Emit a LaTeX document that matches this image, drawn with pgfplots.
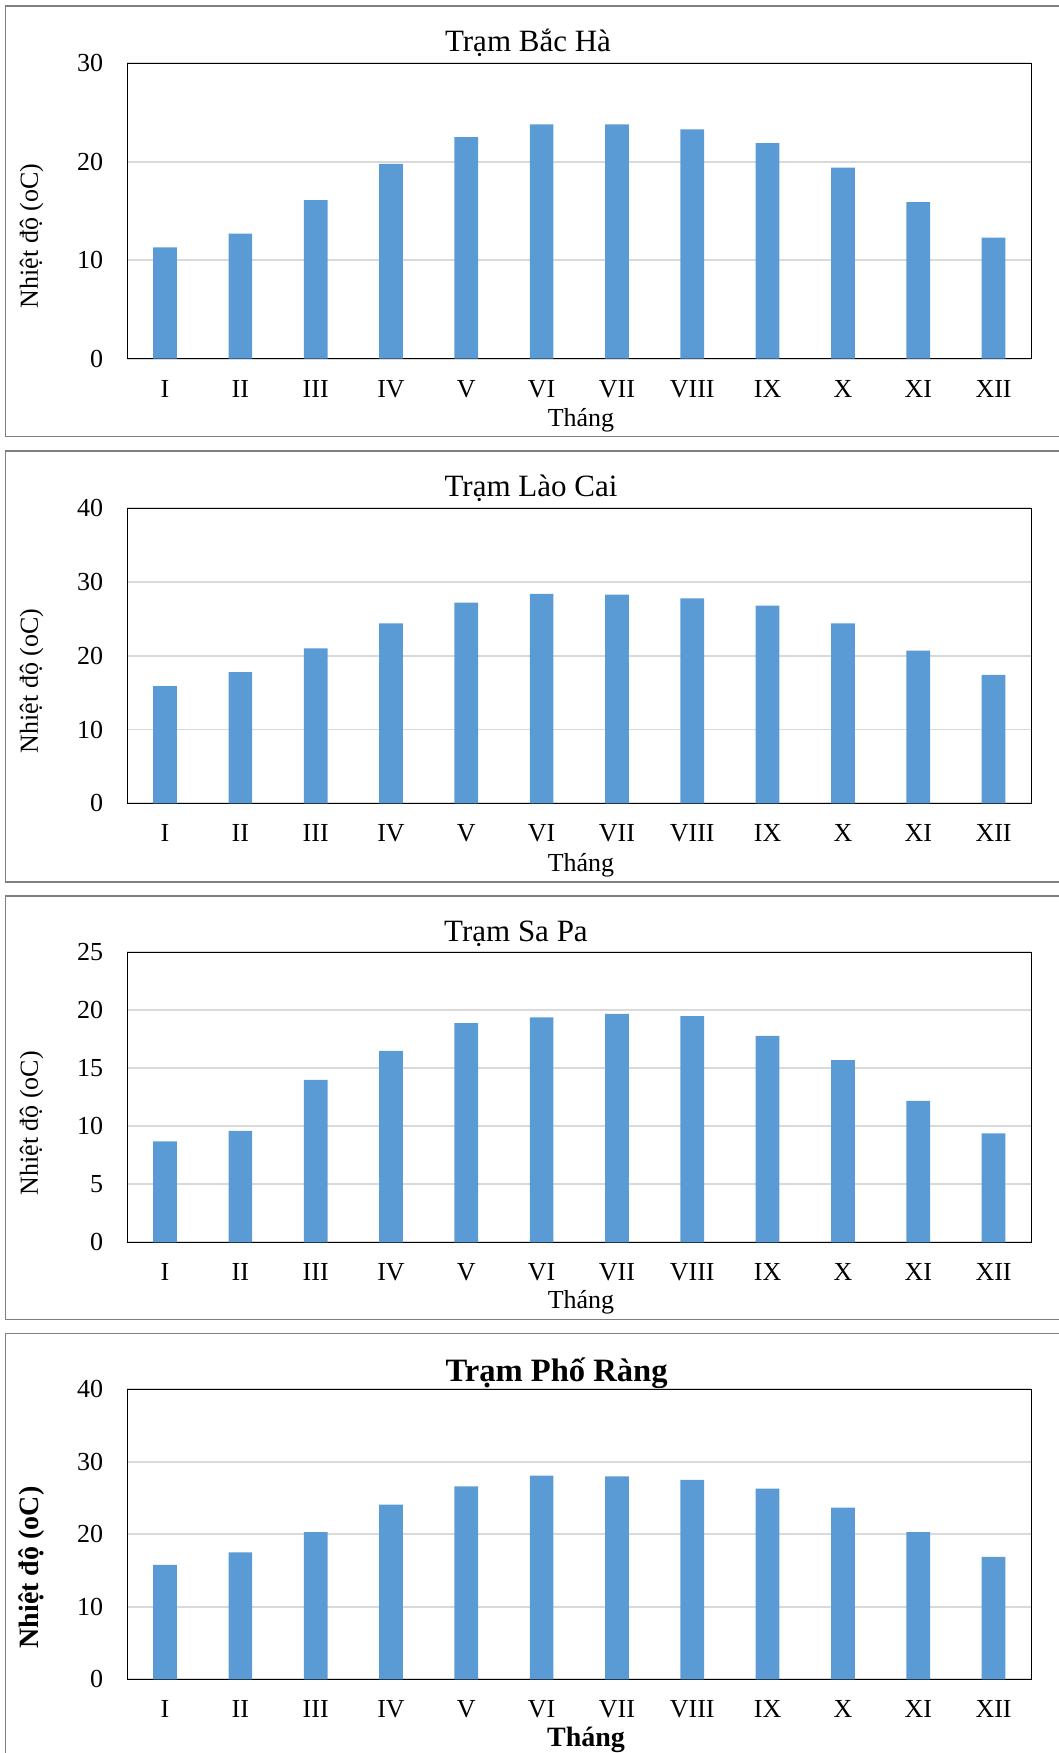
\documentclass[border=0pt]{standalone}
\usepackage{pgfplots}
\pgfplotsset{compat=1.18}
\usepackage{fontspec}
\setmainfont{Liberation Serif}
\definecolor{barblue}{HTML}{5B9BD5}
\definecolor{gridgray}{HTML}{D9D9D9}
\definecolor{framegray}{HTML}{7F7F7F}

\pgfplotsset{
  panel/.style={
    scale only axis, width=451.9pt,
    xmin=0.5, xmax=12.5, ymin=0,
    xtick={1,...,12}, xticklabels={I,II,III,IV,V,VI,VII,VIII,IX,X,XI,XII},
    major tick length=0pt,
    ymajorgrids, grid style={gridgray, line width=0.9pt},
    axis line style={black, line width=0.6pt},
    tick label style={font=\fontsize{13}{15}\selectfont},
    /pgf/number format/assume math mode=true,
    xticklabel style={anchor=north, inner sep=0pt, yshift=-10.5pt},
    yticklabel style={anchor=east, inner sep=0pt, xshift=-12pt},
    ybar, bar width=11.85pt,
    anchor=south west,
  }
}

\begin{document}
\begin{tikzpicture}
\begin{scope}[x=0.5pt, y=-0.5pt]
  \useasboundingbox (0,0) rectangle (1059,1753);
  \clip (0,0) rectangle (1059,1753);
  \coordinate (p1) at (127.4,358.7);
  \coordinate (p2) at (127.4,803.3);
  \coordinate (p3) at (127.4,1242.3);
  \coordinate (p4) at (127.4,1679.3);
  % chart frames
  \draw[framegray, line width=0.75pt] (5.7,6) rectangle (1075,436.7);
  \draw[framegray, line width=0.75pt] (5.7,451) rectangle (1075,882);
  \draw[framegray, line width=0.75pt] (5.7,896) rectangle (1075,1319.3);
  \draw[framegray, line width=0.75pt] (5.7,1333.3) rectangle (1075,1775);
  % titles
  \node[anchor=base, inner sep=0pt, font=\fontsize{15.5}{18}\selectfont] at (528,51.7) {Trạm Bắc Hà};
  \node[anchor=base, inner sep=0pt, font=\fontsize{15.5}{18}\selectfont] at (531,496.7) {Trạm Lào Cai};
  \node[anchor=base, inner sep=0pt, font=\fontsize{15.5}{18}\selectfont] at (516,941) {Trạm Sa Pa};
  \node[anchor=base, inner sep=0pt, font=\fontsize{16.3}{19}\selectfont\bfseries] at (556.6,1381) {Trạm Phố Ràng};
  % x labels
  \node[anchor=base, inner sep=0pt, font=\fontsize{13}{15}\selectfont] at (581,426.7) {Tháng};
  \node[anchor=base, inner sep=0pt, font=\fontsize{13}{15}\selectfont] at (581,871.7) {Tháng};
  \node[anchor=base, inner sep=0pt, font=\fontsize{13}{15}\selectfont] at (581,1308.3) {Tháng};
  \node[anchor=base, inner sep=0pt, font=\fontsize{14}{16}\selectfont\bfseries] at (586,1746) {Tháng};
  % y labels
  \node[rotate=90, inner sep=0pt, font=\fontsize{13}{15}\selectfont] at (31.5,235.8) {Nhiệt độ (oC)};
  \node[rotate=90, inner sep=0pt, font=\fontsize{13}{15}\selectfont] at (31.5,680.8) {Nhiệt độ (oC)};
  \node[rotate=90, inner sep=0pt, font=\fontsize{13}{15}\selectfont] at (31.5,1123.3) {Nhiệt độ (oC)};
  \node[rotate=90, inner sep=0pt, font=\fontsize{14}{16}\selectfont\bfseries] at (31.5,1567.5) {Nhiệt độ (oC)};
\end{scope}

\begin{axis}[panel, at={(p1)}, height=147.7pt, ymax=30, ytick={0,10,20,30}]
\addplot[fill=barblue, draw=none] coordinates {
(1,11.3) (2,12.7) (3,16.1) (4,19.8) (5,22.5) (6,23.8) (7,23.8) (8,23.3) (9,21.9) (10,19.4) (11,15.9) (12,12.3)};
\end{axis}

\begin{axis}[panel, at={(p2)}, height=147.5pt, ymax=40, ytick={0,10,20,30,40}]
\addplot[fill=barblue, draw=none] coordinates {
(1,15.9) (2,17.8) (3,21.0) (4,24.4) (5,27.2) (6,28.4) (7,28.3) (8,27.8) (9,26.8) (10,24.4) (11,20.7) (12,17.4)};
\end{axis}

\begin{axis}[panel, at={(p3)}, height=145pt, ymax=25, ytick={0,5,10,15,20,25}]
\addplot[fill=barblue, draw=none] coordinates {
(1,8.7) (2,9.6) (3,14.0) (4,16.5) (5,18.9) (6,19.4) (7,19.7) (8,19.5) (9,17.8) (10,15.7) (11,12.2) (12,9.4)};
\end{axis}

\begin{axis}[panel, at={(p4)}, height=145pt, ymax=40, ytick={0,10,20,30,40}]
\addplot[fill=barblue, draw=none] coordinates {
(1,15.8) (2,17.5) (3,20.3) (4,24.1) (5,26.6) (6,28.1) (7,28.0) (8,27.5) (9,26.3) (10,23.7) (11,20.3) (12,16.9)};
\end{axis}
\end{tikzpicture}
\end{document}
